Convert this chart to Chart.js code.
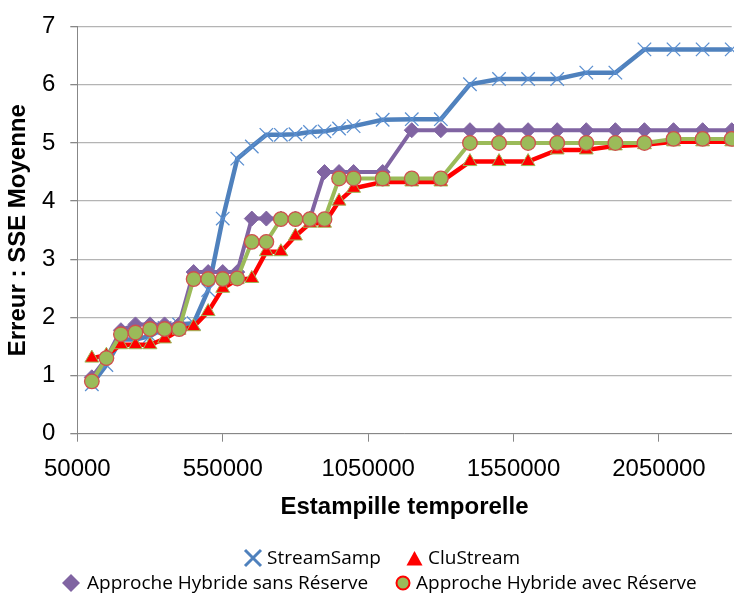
<!DOCTYPE html>
<html lang="fr">
<head>
<meta charset="utf-8">
<title>Erreur SSE moyenne selon l'estampille temporelle</title>
<script src="https://cdn.jsdelivr.net/npm/chart.js@4.4.1/dist/chart.umd.min.js"></script>
<style>
  html, body { margin: 0; padding: 0; background: #fff; }
  #wrap { position: relative; width: 734px; height: 596px; }
  canvas { position: absolute; left: 0; top: 0; }
  .leg { position: absolute; display: flex; align-items: center; height: 25px; line-height: 25px;
         font-family: "Open Sans", "Noto Sans", sans-serif; font-size: 19px; color: #000; white-space: nowrap; }
  .leg svg { display: block; }
</style>
</head>
<body>
<div id="wrap">
  <canvas id="chart" width="734" height="596"></canvas>
  <div class="leg" style="left:243px; top:545px;">
    <svg width="20" height="20" viewBox="0 0 20 20"><path d="M2 2 L18 18 M18 2 L2 18" stroke="#4F81BD" stroke-width="3"/></svg>
    <span style="margin-left:4px">StreamSamp</span>
  </div>
  <div class="leg" style="left:406px; top:545px;">
    <svg width="17" height="16" viewBox="0 0 17 16"><polygon points="8.5,1 16.5,15.5 0.5,15.5" fill="#FF0000"/></svg>
    <span style="margin-left:5px">CluStream</span>
  </div>
  <div class="leg" style="left:61px; top:570px;">
    <svg width="20" height="20" viewBox="0 0 20 20"><polygon points="10,1 19,10 10,19 1,10" fill="#8064A2"/></svg>
    <span style="margin-left:6px">Approche Hybride sans Réserve</span>
  </div>
  <div class="leg" style="left:395px; top:570px;">
    <svg width="16" height="16" viewBox="0 0 16 16"><circle cx="8" cy="8" r="6.5" fill="#9BBB59" stroke="#FF0000" stroke-width="2"/></svg>
    <span style="margin-left:5px">Approche Hybride avec Réserve</span>
  </div>
</div>
<script>
// Estampilles temporelles (axe X)
const timestamps = [100000, 150000, 200000, 250000, 300000, 350000, 400000, 450000, 500000, 550000,
  600000, 650000, 700000, 750000, 800000, 850000, 900000, 950000, 1000000, 1100000,
  1200000, 1300000, 1400000, 1500000, 1600000, 1700000, 1800000, 1900000, 2000000, 2100000,
  2200000, 2300000];

// Erreur SSE moyenne par méthode
const streamSamp = [0.85, 1.18, 1.62, 1.62, 1.68, 1.82, 1.88, 1.9, 2.47, 3.7,
  4.73, 4.94, 5.14, 5.14, 5.15, 5.19, 5.2, 5.25, 5.29, 5.4,
  5.41, 5.41, 6.01, 6.1, 6.1, 6.1, 6.21, 6.21, 6.61, 6.61,
  6.61, 6.61];
const cluStream = [1.3, 1.35, 1.53, 1.53, 1.53, 1.63, 1.78, 1.84, 2.1, 2.5,
  2.65, 2.67, 3.13, 3.13, 3.4, 3.62, 3.62, 4.0, 4.22, 4.33,
  4.33, 4.33, 4.68, 4.68, 4.68, 4.88, 4.88, 4.95, 4.97, 5.02,
  5.02, 5.02];
const hybrideSansReserve = [0.97, 1.3, 1.78, 1.88, 1.88, 1.88, 1.88, 2.78, 2.78, 2.78,
  2.78, 3.7, 3.7, 3.7, 3.7, 3.7, 4.5, 4.5, 4.5, 4.5,
  5.22, 5.22, 5.22, 5.22, 5.22, 5.22, 5.22, 5.22, 5.22, 5.22,
  5.22, 5.22];
const hybrideAvecReserve = [0.9, 1.3, 1.71, 1.74, 1.8, 1.8, 1.8, 2.66, 2.66, 2.66,
  2.67, 3.3, 3.3, 3.69, 3.69, 3.69, 3.69, 4.39, 4.39, 4.39,
  4.39, 4.39, 5.0, 5.0, 5.0, 5.0, 5.0, 5.0, 5.0, 5.07,
  5.07, 5.07];

// Graduations des axes
const xTicks = [50000, 550000, 1050000, 1550000, 2050000];
const yTicks = [0, 1, 2, 3, 4, 5, 6, 7];

const toPoints = values => values.map((v, i) => ({ x: timestamps[i], y: v }));

Chart.defaults.font.family = '"Liberation Sans", Arial, sans-serif';
Chart.defaults.color = '#000';

new Chart(document.getElementById('chart'), {
  type: 'line',
  data: {
    datasets: [
      {
        label: 'StreamSamp',
        data: toPoints(streamSamp),
        borderColor: '#4F81BD',
        borderWidth: 4.5,
        pointStyle: 'crossRot',
        pointRadius: 9.5,
        pointBorderColor: '#5B8FD0',
        pointBorderWidth: 1.3,
        clip: false,
        order: 4
      },
      {
        label: 'CluStream',
        data: toPoints(cluStream),
        borderColor: '#FF0000',
        borderWidth: 4.5,
        pointStyle: 'triangle',
        pointRadius: 8,
        pointBackgroundColor: '#FF0000',
        pointBorderColor: '#9BBB59',
        pointBorderWidth: 1,
        clip: false,
        order: 3
      },
      {
        label: 'Approche Hybride sans Réserve',
        data: toPoints(hybrideSansReserve),
        borderColor: '#8064A2',
        borderWidth: 4,
        pointStyle: 'rectRot',
        pointRadius: 7.5,
        pointBackgroundColor: '#8064A2',
        pointBorderColor: '#8064A2',
        pointBorderWidth: 1,
        clip: false,
        order: 2
      },
      {
        label: 'Approche Hybride avec Réserve',
        data: toPoints(hybrideAvecReserve),
        borderColor: '#9BBB59',
        borderWidth: 4,
        pointStyle: 'circle',
        pointRadius: 7.3,
        pointBackgroundColor: '#9BBB59',
        pointBorderColor: '#D0504D',
        pointBorderWidth: 1.3,
        clip: false,
        order: 1
      }
    ]
  },
  options: {
    responsive: false,
    devicePixelRatio: 1,
    animation: false,
    events: [],
    layout: { autoPadding: false, padding: { top: 26.7, right: 2.3, bottom: 74.6, left: 0 } },
    elements: { line: { tension: 0 } },
    plugins: { legend: { display: false }, tooltip: { enabled: false } },
    scales: {
      x: {
        type: 'linear',
        min: 50000,
        max: 2300000,
        afterBuildTicks: scale => { scale.ticks = xTicks.map(v => ({ value: v })); },
        afterFit: scale => {
          scale.height = 87.7;
          scale.paddingLeft = 0;
          scale.paddingRight = 0;
        },
        ticks: {
          font: { size: 24 },
          padding: 13,
          maxRotation: 0,
          autoSkip: false,
          callback: v => String(v)
        },
        grid: { drawOnChartArea: false, drawTicks: true, tickLength: 8, color: '#878787' },
        border: { color: '#878787', width: 1 },
        title: {
          display: true,
          text: 'Estampille temporelle',
          font: { size: 24, weight: 'bold' },
          padding: { top: 0, bottom: 0 }
        }
      },
      y: {
        min: 0,
        max: 7,
        afterBuildTicks: scale => { scale.ticks = yTicks.map(v => ({ value: v })); },
        afterFit: scale => {
          scale.width = 77.3;
          scale.paddingTop = 0;
          scale.paddingBottom = 0;
        },
        ticks: { font: { size: 24 }, padding: 15 },
        grid: { color: '#B4B4B4', lineWidth: 1.3, tickLength: 7, tickColor: '#878787' },
        border: { color: '#878787', width: 1 },
        title: {
          display: true,
          text: 'Erreur : SSE Moyenne',
          font: { size: 24, weight: 'bold' },
          padding: { top: 4, bottom: 0 }
        }
      }
    }
  }
});
</script>
</body>
</html>
